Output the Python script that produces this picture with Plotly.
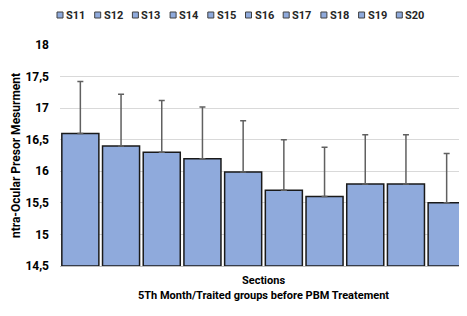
import plotly.graph_objects as go

series = ["S11", "S12", "S13", "S14", "S15", "S16", "S17", "S18", "S19", "S20"]
values = [16.6, 16.4, 16.3, 16.2, 15.99, 15.7, 15.6, 15.8, 15.8, 15.5]
errors = [0.82, 0.82, 0.82, 0.82, 0.81, 0.8, 0.78, 0.78, 0.78, 0.78]
ytick_vals = [14.5, 15, 15.5, 16, 16.5, 17, 17.5, 18]
ytick_text = ["14,5", "15", "15,5", "16", "16,5", "17", "17,5", "18"]

FILL = "#8FAADC"
FONT = "Liberation Sans Narrow, Arial Narrow, Roboto, sans-serif"

fig = go.Figure()
for name, v, e in zip(series, values, errors):
    fig.add_trace(go.Bar(
        x=[name], y=[v - 14.5], base=14.5, name=name,
        marker=dict(color=FILL, line=dict(color="#1a1a1a", width=1.5)),
        error_y=dict(type="data", symmetric=False, array=[e], arrayminus=[0],
                     color="#606060", thickness=1.5, width=3),
        width=0.91, showlegend=False,
    ))

# manual legend (page coords converted to paper coords)
x0, step = 57, 37.7
for i, name in enumerate(series):
    xs = x0 + i * step
    fig.add_shape(type="rect", xref="paper", yref="paper",
                  x0=(xs - 60) / 407, x1=(xs + 6 - 60) / 407,
                  y0=(266 - 18) / 221, y1=(266 - 12) / 221,
                  fillcolor=FILL, line=dict(color="#404040", width=1))
    fig.add_annotation(x=(xs + 7 - 60) / 407, y=(266 - 15) / 221,
                       xref="paper", yref="paper", xanchor="left", yanchor="middle",
                       text="<b>" + name + "</b>", showarrow=False,
                       font=dict(size=11, color="#262626", family=FONT))

fig.update_layout(
    width=459, height=308,
    margin=dict(l=52, r=0, t=37, b=50, autoexpand=False),
    paper_bgcolor="white", plot_bgcolor="white",
    barmode="overlay",
    font=dict(family=FONT, color="#000000"),
    xaxis=dict(showticklabels=False, ticks="", range=[-0.5, 9.5],
               showline=True, linecolor="#bfbfbf",
               title=dict(text="<b>Sections</b><br><b>5Th Month/Traited groups before PBM Treatement</b>",
                          font=dict(size=11, family=FONT), standoff=10)),
    yaxis=dict(range=[14.5, 18], tickvals=ytick_vals, ticktext=ytick_text,
               tickfont=dict(size=12, family=FONT, weight="bold"), ticklabelstandoff=10,
               gridcolor="#d9d9d9", gridwidth=1, zeroline=False,
               title=dict(text="<b>ntra-Ocular Presor Mesurment</b>",
                          font=dict(size=12, family=FONT), standoff=2)),
)
fig.write_html("out.html")
